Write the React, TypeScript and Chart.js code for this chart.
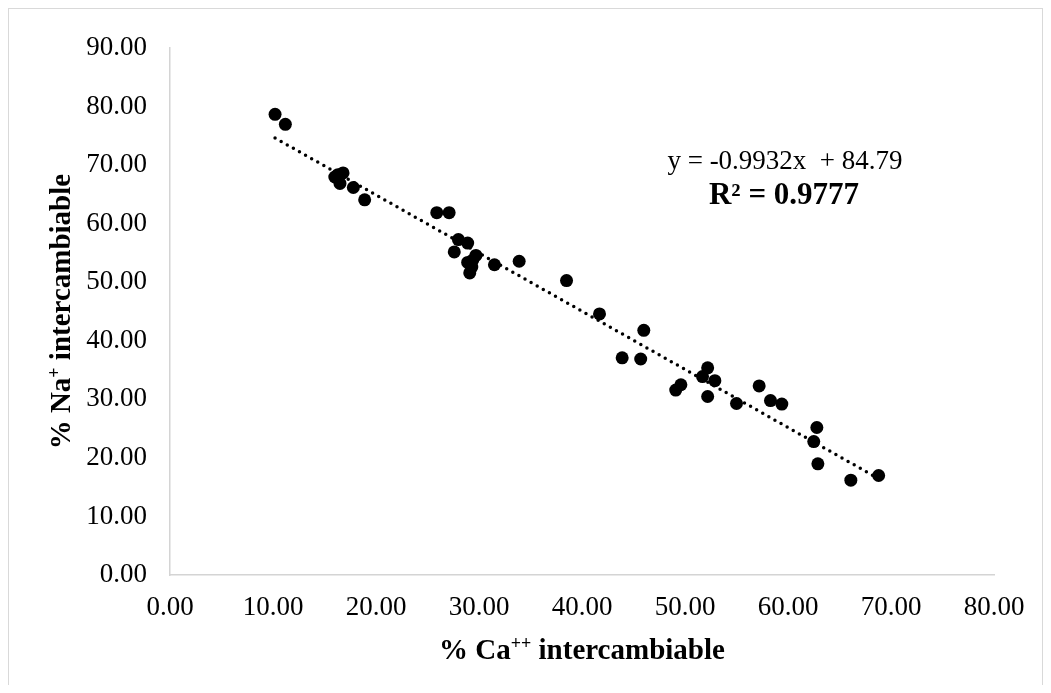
import React, { useEffect, useRef } from 'react';
import { Chart, registerables } from 'chart.js';

Chart.register(...registerables);

// % Ca++ intercambiable (x) and % Na+ intercambiable (y)
const CA_X = [
  10.2, 11.2, 16.0, 16.3, 16.8, 16.5, 17.8, 18.9, 25.9, 27.1,
  28.0, 28.9, 27.6, 29.7, 28.9, 29.4, 29.1, 29.3, 31.5, 33.9,
  38.5, 41.7, 46.0, 43.9, 45.7, 52.2, 51.7, 52.9, 49.6, 49.1,
  52.2, 55.0, 57.2, 58.3, 59.4, 62.8, 62.5, 62.9, 66.1, 68.8,
];
const NA_Y = [
  78.7, 77.0, 68.0, 68.4, 68.7, 66.9, 66.2, 64.1, 61.9, 61.9,
  57.3, 56.7, 55.2, 54.6, 53.4, 53.8, 51.6, 52.6, 53.0, 53.6,
  50.3, 44.6, 41.8, 37.1, 36.9, 35.4, 33.9, 33.2, 32.5, 31.6,
  30.5, 29.3, 32.3, 29.8, 29.2, 25.2, 22.8, 19.0, 16.2, 17.0,
];

// Linear trendline reported on the chart
const TREND_SLOPE = -0.9932;
const TREND_INTERCEPT = 84.79;
const EQUATION_TEXT = 'y = -0.9932x  + 84.79';
const R2_TEXT = 'R² = 0.9777';

// Axis ranges
const X_MIN = 0;
const X_MAX = 80;
const X_STEP = 10;
const Y_MIN = 0;
const Y_MAX = 90;
const Y_STEP = 10;

const X_TITLE = ['% Ca', '++', ' intercambiable'];
const Y_TITLE = ['% Na', '+', ' intercambiable'];

const FAMILY = "'Liberation Serif', 'Times New Roman', serif";

function drawRich(ctx: CanvasRenderingContext2D, parts: string[], cx: number, baseline: number, size: number) {
  const big = `bold ${size}px ${FAMILY}`;
  const small = `bold ${Math.round(size * 0.62)}px ${FAMILY}`;
  const fonts = [big, small, big];
  let total = 0;
  const widths = parts.map((p, i) => {
    ctx.font = fonts[i];
    const w = ctx.measureText(p).width;
    total += w;
    return w;
  });
  let x = cx - total / 2;
  ctx.textAlign = 'left';
  ctx.textBaseline = 'alphabetic';
  parts.forEach((p, i) => {
    ctx.font = fonts[i];
    const dy = i === 1 ? -size * 0.36 : 0;
    ctx.fillText(p, x, baseline + dy);
    x += widths[i];
  });
}

const annotationPlugin = {
  id: 'annotations',
  afterDraw(chart: any) {
    const ctx: CanvasRenderingContext2D = chart.ctx;
    const area = chart.chartArea;
    ctx.save();
    ctx.fillStyle = '#000';
    // x title
    drawRich(ctx, X_TITLE, (area.left + area.right) / 2, 650, 29);
    // y title
    ctx.save();
    ctx.translate(61, (area.top + area.bottom) / 2);
    ctx.rotate(-Math.PI / 2);
    drawRich(ctx, Y_TITLE, 0, 0, 29);
    ctx.restore();
    // equation
    ctx.textAlign = 'center';
    ctx.textBaseline = 'alphabetic';
    ctx.font = `27px ${FAMILY}`;
    ctx.fillText(EQUATION_TEXT, 776, 160);
    ctx.font = `bold 31px ${FAMILY}`;
    ctx.fillText(R2_TEXT, 775, 195);
    ctx.restore();
  },
};

export default function App() {
  const ref = useRef<HTMLCanvasElement>(null);

  useEffect(() => {
    const canvas = ref.current!;
    const points = CA_X.map((x, i) => ({ x, y: NA_Y[i] }));
    const xmin = Math.min(...CA_X);
    const xmax = Math.max(...CA_X);
    const trend = [xmin, xmax].map((x) => ({ x, y: TREND_SLOPE * x + TREND_INTERCEPT }));

    const chart = new Chart(canvas, {
      type: 'scatter',
      data: {
        datasets: [
          {
            type: 'line',
            data: trend,
            order: 0,
            borderColor: '#000',
            borderWidth: 3.5,
            borderDash: [0, 7],
            borderCapStyle: 'round',
            pointRadius: 0,
            fill: false,
            showLine: true,
          } as any,
          {
            data: points,
            order: 1,
            backgroundColor: '#000',
            borderColor: '#000',
            borderWidth: 0,
            pointRadius: 6.5,
            pointHoverRadius: 6.5,
          },
        ],
      },
      options: {
        responsive: false,
        animation: false,
        devicePixelRatio: 1,
        layout: { padding: { left: 0, top: 29, right: 48, bottom: 0 } },
        plugins: {
          legend: { display: false },
          tooltip: { enabled: false },
        },
        scales: {
          x: {
            type: 'linear',
            min: X_MIN,
            max: X_MAX,
            grid: { display: false, drawTicks: false },
            border: { display: true, color: '#d4d4d4', width: 1.5 },
            ticks: {
              stepSize: X_STEP,
              padding: 17,
              maxRotation: 0,
              autoSkip: false,
              color: '#000',
              font: { family: FAMILY, size: 27 },
              callback: (v: any) => Number(v).toFixed(2),
            },
            afterFit: (scale: any) => {
              scale.height = 110;
            },
          },
          y: {
            type: 'linear',
            min: Y_MIN,
            max: Y_MAX,
            grid: { display: false, drawTicks: false },
            border: { display: true, color: '#d4d4d4', width: 1.5 },
            ticks: {
              stepSize: Y_STEP,
              padding: 23,
              autoSkip: false,
              color: '#000',
              font: { family: FAMILY, size: 27 },
              callback: (v: any) => Number(v).toFixed(2),
            },
            afterFit: (scale: any) => {
              scale.width = 161;
            },
          },
        },
      },
      plugins: [annotationPlugin],
    });
    return () => chart.destroy();
  }, []);

  return (
    <div
      style={{
        width: 1035,
        height: 677,
        boxSizing: 'border-box',
        borderTop: '1px solid #d9d9d9',
        borderLeft: '1px solid #d9d9d9',
        borderRight: '1px solid #d9d9d9',
        background: '#fff',
      }}
    >
      <canvas ref={ref} width={1033} height={676} style={{ display: 'block' }} />
    </div>
  );
}
